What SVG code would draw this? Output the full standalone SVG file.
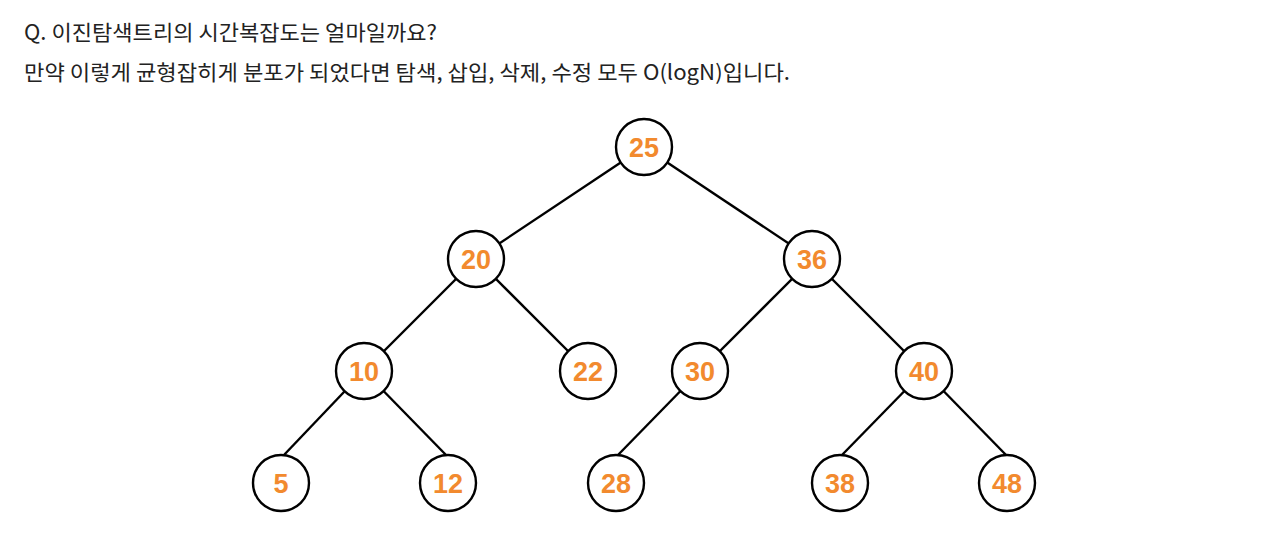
<svg xmlns="http://www.w3.org/2000/svg" width="1280" height="544" viewBox="0 0 1280 544">
<style>
.hdr{font-family:"Noto Sans CJK KR","Noto Sans",sans-serif;font-size:21px;fill:#222}
.n circle{fill:#fff;stroke:#000;stroke-width:2.4}
.n text{font-family:"Liberation Sans",Arial,sans-serif;font-weight:bold;font-size:27px;fill:#F28A2E;text-anchor:middle;dominant-baseline:central}
.e line{stroke:#000;stroke-width:2.4}
</style>
<rect width="1280" height="544" fill="#fff"/>
<text class="hdr" x="24" y="40" textLength="413" lengthAdjust="spacingAndGlyphs">Q. 이진탐색트리의 시간복잡도는 얼마일까요?</text>
<text class="hdr" x="24" y="80" textLength="766" lengthAdjust="spacingAndGlyphs">만약 이렇게 균형잡히게 분포가 되었다면 탐색, 삽입, 삭제, 수정 모두 O(logN)입니다.</text>
<g class="e" id="edges">
<line x1="644" y1="147" x2="476" y2="259"/>
<line x1="644" y1="147" x2="812" y2="259"/>
<line x1="476" y1="259" x2="364" y2="371"/>
<line x1="476" y1="259" x2="588" y2="371"/>
<line x1="812" y1="259" x2="700" y2="371"/>
<line x1="812" y1="259" x2="924" y2="371"/>
<line x1="364" y1="371" x2="283" y2="456"/>
<line x1="364" y1="371" x2="447" y2="456"/>
<line x1="700" y1="371" x2="617" y2="456"/>
<line x1="924" y1="371" x2="841" y2="456"/>
<line x1="924" y1="371" x2="1007" y2="456"/>
</g>
<g class="n" id="n25"><circle cx="644" cy="147" r="28"/><text x="644" y="148">25</text></g>
<g class="n" id="n20"><circle cx="476" cy="259" r="28"/><text x="476" y="260">20</text></g>
<g class="n" id="n36"><circle cx="812" cy="259" r="28"/><text x="812" y="260">36</text></g>
<g class="n" id="n10"><circle cx="364" cy="371" r="28"/><text x="364" y="372">10</text></g>
<g class="n" id="n22"><circle cx="588" cy="371" r="28"/><text x="588" y="372">22</text></g>
<g class="n" id="n30"><circle cx="700" cy="371" r="28"/><text x="700" y="372">30</text></g>
<g class="n" id="n40"><circle cx="924" cy="371" r="28"/><text x="924" y="372">40</text></g>
<g class="n" id="n5"><circle cx="281" cy="483" r="28"/><text x="281" y="484">5</text></g>
<g class="n" id="n12"><circle cx="448" cy="483" r="28"/><text x="448" y="484">12</text></g>
<g class="n" id="n28"><circle cx="616" cy="483" r="28"/><text x="616" y="484">28</text></g>
<g class="n" id="n38"><circle cx="840" cy="483" r="28"/><text x="840" y="484">38</text></g>
<g class="n" id="n48"><circle cx="1007" cy="483" r="28"/><text x="1007" y="484">48</text></g>
</svg>
